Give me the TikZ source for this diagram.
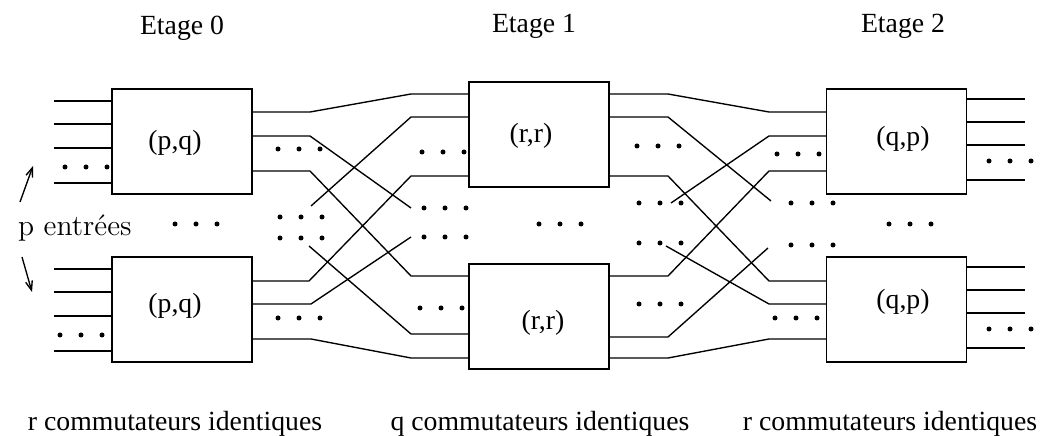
\documentclass[tikz,border=0pt]{standalone}
\usepackage{fontspec}
\newfontfamily\tmsfont{Liberation Serif}
\usetikzlibrary{arrows.meta}

\begin{document}
\begin{tikzpicture}[x=0.44pt,y=-0.44pt,
		boite/.style={draw,line width=0.6pt,minimum width=61.6pt,minimum height=46.2pt,inner sep=0pt},
		fil/.style={line width=0.6pt},
		txt/.style={font=\tmsfont\fontsize{12.2}{14}\selectfont},
		titre/.style={txt,anchor=base}]
				\useasboundingbox (0,0) rectangle (1041,436);
				
				% etages
				\node[titre] (t0) at (182,35) {Etage 0};
				\node[titre] (t1) at (534,33) {Etage 1};
				\node[titre] (t2) at (903,33) {Etage 2};
				
				\node[boite] (e0a) at (182,141.5) {};
				\node[boite] (e0b) at (182,309.5) {};
				\node[boite] (e1a) at (539,134.5) {};
				\node[boite] (e1b) at (539,316.5) {};
				\node[boite] (e2a) at (896.5,141.5) {};
				\node[boite] (e2b) at (896.5,309.5) {};
				
				\node[txt] (l0a) at (175,143) {(p,q)};
				\node[txt] (l0b) at (175,306) {(p,q)};
				\node[txt] (l1a) at (531,136) {(r,r)};
				\node[txt] (l1b) at (543,323) {(r,r)};
				\node[txt] (l2a) at (903,139) {(q,p)};
				\node[txt] (l2b) at (903,302) {(q,p)};
				
				% entrees et sorties
				\foreach \y in {101,124,148,183} \draw[fil] (54,\y) -- (e0a.west |- 0,\y);
				\foreach \y in {269,292,316,351} \draw[fil] (54,\y) -- (e0b.west |- 0,\y);
				\foreach \y in {99,122,145,180} \draw[fil] (e2a.east |- 0,\y) -- (1025,\y);
				\foreach \y in {267,290,313,348} \draw[fil] (e2b.east |- 0,\y) -- (1025,\y);
				
				\coordinate (f1) at (411,208);
				\coordinate (f2) at (311,206);
				\coordinate (f3) at (309,246);
				\coordinate (f4) at (411,237);
				\coordinate (f5) at (771,201);
				\coordinate (f6) at (671,203);
				\coordinate (f7) at (666,246);
				\coordinate (f8) at (768,248);
				
				% etage 0 -> etage 1
				\draw[fil] (e0a.east |- 0,112) -- (310,112) -- (411,94) -- (e1a.west |- 0,94);
				\draw[fil] (e0a.east |- 0,136) -- (310,136) -- (f1);
				\draw[fil] (e0a.east |- 0,171) -- (310,171) -- (411,276) -- (e1b.west |- 0,276);
				\draw[fil] (f2) -- (411,117) -- (e1a.west |- 0,117);
				\draw[fil] (f3) -- (411,334) -- (e1b.west |- 0,334);
				\draw[fil] (e0b.east |- 0,281) -- (309,281) -- (411,176) -- (e1a.west |- 0,176);
				\draw[fil] (e0b.east |- 0,304) -- (311,304) -- (f4);
				\draw[fil] (e0b.east |- 0,339) -- (311,339) -- (411,358) -- (e1b.west |- 0,358);
				
				% etage 1 -> etage 2
				\draw[fil] (e1a.east |- 0,94) -- (668,94) -- (769,112) -- (e2a.west |- 0,112);
				\draw[fil] (e1a.east |- 0,117) -- (668,117) -- (f5);
				\draw[fil] (e1a.east |- 0,176) -- (668,176) -- (769,281) -- (e2b.west |- 0,281);
				\draw[fil] (f6) -- (769,136) -- (e2a.west |- 0,136);
				\draw[fil] (f7) -- (769,304) -- (e2b.west |- 0,304);
				\draw[fil] (e1b.east |- 0,276) -- (668,276) -- (769,171) -- (e2a.west |- 0,171);
				\draw[fil] (e1b.east |- 0,337) -- (668,337) -- (f8);
				\draw[fil] (e1b.east |- 0,358) -- (668,358) -- (769,339) -- (e2b.west |- 0,339);
				
				% points de suspension
				\foreach \x/\y in {65/167,60/335,175/224,278/149,278/318,280/217,280/238,
						424/208,424/237,422/152,420/308,539/224,637/146,639/304,639/203,639/243,
						791/203,791/245,777/154,775/318,889/224,989/161,989/329}
					\foreach \k in {0,1,2} \fill (\x+21*\k,\y) circle (1.1pt);
				
				\node[anchor=base west,font=\fontsize{13}{15}\selectfont] (pe) at (10,236) {p entr\'ees};
				\draw[fil,-{Straight Barb[length=4pt,width=3pt]}] (20,202) -- (33,166);
				\draw[fil,-{Straight Barb[length=4pt,width=3pt]}] (22,257) -- (32,292);
				
				\node[titre] (c0) at (175,431) {r commutateurs identiques};
				\node[titre] (c1) at (540,431) {q commutateurs identiques};
				\node[titre] (c2) at (890,431) {r commutateurs identiques};
			\end{tikzpicture}
\end{document}
